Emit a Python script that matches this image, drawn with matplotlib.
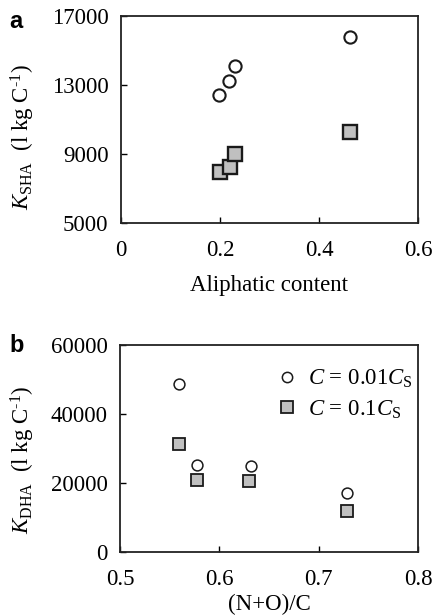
import numpy as np
import matplotlib
matplotlib.use('Agg')
import matplotlib.pyplot as plt

plt.rcParams['font.family'] = ['Liberation Serif', 'DejaVu Serif']
plt.rcParams['mathtext.fontset'] = 'custom'
plt.rcParams['mathtext.rm'] = 'Liberation Serif'
plt.rcParams['mathtext.it'] = 'Liberation Serif:italic'
plt.rcParams['mathtext.bf'] = 'Liberation Serif:bold'

# panel a: K_SHA vs aliphatic content
aliph_circ = [0.198, 0.218, 0.230, 0.463]
ksha_001 = [12400, 13230, 14120, 15800]
aliph_sq = [0.201, 0.220, 0.231, 0.463]
ksha_01 = [7980, 8230, 9000, 10290]

# panel b: K_DHA vs (N+O)/C
noc_circ = [0.559, 0.578, 0.632, 0.729]
kdha_001 = [48700, 25200, 24900, 17100]
noc_sq = [0.559, 0.578, 0.630, 0.729]
kdha_01 = [31300, 21000, 20750, 11900]

fs = 16.5
grey = '#c0c0c0'
edge = '#1a1a1a'

fig = plt.figure(figsize=(4.33, 6.16), dpi=100)

# ---- panel a ----
ax1 = fig.add_axes([0.2794, 0.638, 0.6859, 0.336])
ax1.plot(aliph_circ, ksha_001, 'o', ms=8.8, mfc='white', mec=edge, mew=1.5)
ax1.plot(aliph_sq, ksha_01, 's', ms=9.8, mfc=grey, mec=edge, mew=1.7)
ax1.set_xlim(0, 0.6)
ax1.set_ylim(5000, 17000)
ax1.set_xticks([0, 0.2, 0.4, 0.6])
ax1.set_xticklabels(['0', '0.2', '0.4', '0.6'])
ax1.set_yticks([5000, 9000, 13000, 17000])
ax1.set_xlabel('Aliphatic content', fontsize=fs, labelpad=10)
ax1.set_ylabel(r'$K_{\mathrm{SHA}}$  (l kg C$^{\text{-1}}$)', fontsize=fs)
ax1.yaxis.set_label_coords(-0.283, 0.415)
ax1.text(-0.375, 0.975, 'a', transform=ax1.transAxes, fontsize=17, fontweight='bold',
         family='Liberation Sans', va='center', ha='left')

# ---- panel b ----
ax2 = fig.add_axes([0.2771, 0.1034, 0.6882, 0.3365])
ax2.plot(noc_circ, kdha_001, 'o', ms=7.8, mfc='white', mec=edge, mew=1.1,
         label=r'$C$ = 0.01$C_{\mathrm{S}}$')
ax2.plot(noc_sq, kdha_01, 's', ms=9.2, mfc=grey, mec=edge, mew=1.3,
         label=r'$C$ = 0.1$C_{\mathrm{S}}$')
ax2.set_xlim(0.5, 0.8)
ax2.set_ylim(0, 60000)
ax2.set_xticks([0.5, 0.6, 0.7, 0.8])
ax2.set_yticks([0, 20000, 40000, 60000])
ax2.set_xlabel('(N+O)/C', fontsize=fs, labelpad=3)
ax2.set_ylabel(r'$K_{\mathrm{DHA}}$  (l kg C$^{\text{-1}}$)', fontsize=fs)
ax2.yaxis.set_label_coords(-0.279, 0.444)
ax2.text(-0.37, 1.0, 'b', transform=ax2.transAxes, fontsize=17, fontweight='bold',
         family='Liberation Sans', va='center', ha='left')
ax2.legend(loc='upper right', bbox_to_anchor=(1.03, 0.955), frameon=False, fontsize=fs,
           markerscale=0.95, handletextpad=0.35, handlelength=1.2, labelspacing=0.35,
           borderaxespad=0.2)

for ax in (ax1, ax2):
    ax.tick_params(direction='in', length=4, width=1, labelsize=fs)
    ax.tick_params(axis='y', pad=9)
    ax.tick_params(axis='x', pad=12)
    for sp in ax.spines.values():
        sp.set_linewidth(1.3)
        sp.set_color('#222222')

fig.savefig('out.png', dpi=100)
